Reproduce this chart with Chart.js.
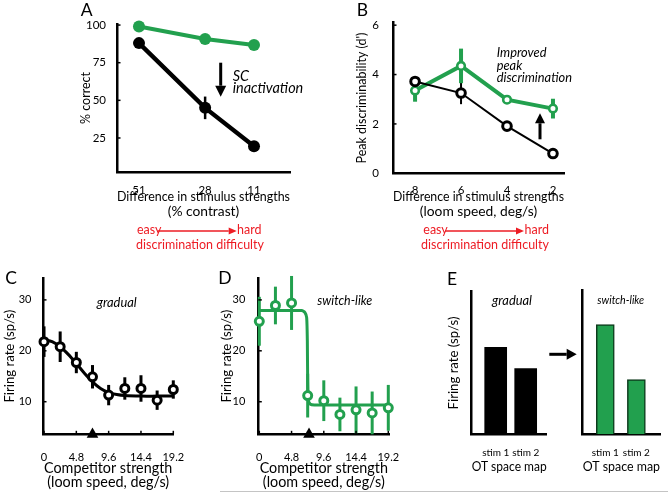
<!DOCTYPE html>
<html>
<head>
<meta charset="utf-8">
<script src="https://cdn.jsdelivr.net/npm/chart.js@4.4.1/dist/chart.umd.min.js"></script>
<style>
html,body{margin:0;padding:0;background:#fff}
#fig{position:relative;width:668px;height:494px;overflow:hidden;background:#fff}
#fig canvas{position:absolute;left:0;top:0}
</style>
</head>
<body>
<div id="fig">
<canvas id="c-a" width="668" height="494"></canvas>
<canvas id="c-b" width="668" height="494"></canvas>
<canvas id="c-c" width="668" height="494"></canvas>
<canvas id="c-d" width="668" height="494"></canvas>
<canvas id="c-e1" width="668" height="494"></canvas>
<canvas id="c-e2" width="668" height="494"></canvas>
</div>
<script>
// A: % correct vs difference in contrast
const aDiff=[51,28,11];
const aCtrl=[88,45,19.5];
const aCtrlErr=[2.5,7.5,3];
const aInact=[99,90.8,86.8];
const aTicksY=[25,50,75,100];
// B: peak d' vs difference in loom speed
const bDiff=[8,6,4,2];
const bCtrl=[3.72,3.25,1.91,0.8];
const bCtrlErr=[0.15,0.45,0.1,0.1];
const bInact=[3.35,4.35,2.98,2.62];
const bInactErr=[0.45,0.7,0.12,0.4];
const bTicksY=[0,2,4,6];
// C / D: firing rate vs competitor strength
const compStr=[0,2.4,4.8,7.2,9.6,12,14.4,16.8,19.2];
const compTicks=[0,4.8,9.6,14.4,19.2];
const rateTicks=[10,20,30];
const cRate=[21.8,20.8,17.7,14.9,11.3,12.6,12.6,10.3,12.4];
const cErr=[3,3,2.1,2.3,2,2.2,2.6,1.9,1.8];
const cFitX=[0,1.2,2.4,3.6,4.8,6,7.2,8.4,9.6,10.8,12,14.4,16.8,19.2,20.2];
const cFitY=[22.2,21.8,20.8,19.3,17.5,15.6,13.9,12.6,11.8,11.4,11.2,11.1,11.1,11.1,11.1];
const cThresh=[7.2];
const dRate=[25.8,28.9,29.4,11.2,10.2,7.5,8.4,7.8,8.8];
const dErr=[4.8,3.7,5.3,4.3,4,3.3,4.6,4.2,4.5];
const dFitX=[0,6.3,6.8,7.05,7.15,7.2,7.3,7.6,8.2,19.2];
const dFitY=[27.9,27.9,27.5,26.5,22,14,10.3,9.5,9.35,9.35];
const dThresh=[7.4];
// E: schematic bars
const eStims=['stim 1','stim 2'];
const eX=[1,2];
const eGradual=[61,46];
const eSwitch=[76,38];

const W=668,H=494;
const GREEN='#22a04e',RED='#ed1c24',FAM='Lato, "Open Sans", sans-serif';
Chart.defaults.font.family=FAM;
Chart.defaults.color='#000';
Chart.defaults.animation=false;
Chart.defaults.responsive=false;
Chart.defaults.plugins.legend.display=false;
Chart.defaults.plugins.tooltip.enabled=false;

// font size that makes a string a given width in px
const mctx=document.createElement('canvas').getContext('2d');
const fit=(txt,w,st)=>{ mctx.font=(st||'')+' 100px '+FAM; return +(100*w/mctx.measureText(txt).width).toFixed(2); };
const fs={
  tA:fit('Difference in stimulus strengths',192),
  tC:fit('(loom speed, deg/s)',122),
  tE:fit('OT space map',84),
  yA:fit('% correct',52),
  yB:fit("Peak discriminability (d')",131),
  yC:fit('Firing rate (sp/s)',93),
  kA:11.5, kC:11, kE:10,
  red:fit('discrimination difficulty',128),
  itA:fit('inactivation',70.6,'italic'),
  itB:fit('discrimination',75.3,'italic'),
  itC:fit('gradual',40,'italic'),
  itD:fit('switch-like',55,'italic'),
  itE:fit('switch-like',47,'italic')
};

const pad=(a,yw,xh)=>({left:a[0]-yw,top:a[1],right:W-a[2],bottom:H-a[3]-xh});
const pts=(xs,ys)=>xs.map((x,i)=>({x,y:ys[i]}));

function xAxis(o){
  const ticks={font:{size:o.size},padding:o.pad,color:'#000',maxRotation:0,autoSkip:false};
  if(o.cb) ticks.callback=o.cb;
  return {
    type:'linear',position:'bottom',min:o.min,max:o.max,reverse:!!o.reverse,offset:false,
    grid:{display:false},border:{color:'#000',width:2.5},ticks,
    title:{display:true,text:o.title,font:{size:o.tsize,lineHeight:o.lh||1.2},padding:0,color:'#000'},
    afterBuildTicks:s=>{ s.ticks=o.ticks.map(v=>({value:v})); },
    afterFit:s=>{ s.height=o.h; s.paddingLeft=0; s.paddingRight=0; }
  };
}
function yAxis(o){
  return {
    type:'linear',position:'left',min:o.min,max:o.max,
    grid:{display:false},border:{color:'#000',width:2.5},
    ticks:{display:!!o.ticks,font:{size:o.size||12},padding:o.pad||3,color:'#000'},
    title:{display:!!o.title,text:o.title||'',font:{size:o.tsize||13.5},padding:0,color:'#000'},
    afterBuildTicks:s=>{ s.ticks=(o.ticks||[]).map(v=>({value:v})); },
    afterFit:s=>{ s.width=o.w; s.paddingTop=0; s.paddingBottom=0; }
  };
}
// width of the y axis box so the rotated title centre lands at page x tx
const yw=(left,tx,size)=>left-tx+size*0.6;

// error bars, inward ticks and free annotations
const extras={
  id:'extras',
  beforeDatasetsDraw(ch){
    const {ctx,scales:{x,y}}=ch;
    ch.data.datasets.forEach(ds=>{
      if(!ds.err) return;
      ctx.save();
      ctx.strokeStyle=ds.borderColor; ctx.lineWidth=ds.errWidth||2;
      ds.data.forEach((p,i)=>{
        const px=x.getPixelForValue(p.x);
        const lo=Math.max(p.y-ds.err[i],y.min);
        ctx.beginPath();
        ctx.moveTo(px,y.getPixelForValue(lo));
        ctx.lineTo(px,y.getPixelForValue(p.y+ds.err[i]));
        ctx.stroke();
      });
      ctx.restore();
    });
  },
  afterDraw(ch,args,opts){
    const {ctx,chartArea:ca,scales}=ch;
    ctx.save();
    (opts.inTicks||[]).forEach(id=>{
      const s=scales[id];
      ctx.strokeStyle='#000'; ctx.lineWidth=1.5;
      s.ticks.forEach(t=>{
        const p=s.getPixelForValue(t.value);
        ctx.beginPath();
        if(s.isHorizontal()){ ctx.moveTo(p,ca.bottom); ctx.lineTo(p,ca.bottom-3.5); }
        else { ctx.moveTo(ca.left,p); ctx.lineTo(ca.left+3.5,p); }
        ctx.stroke();
      });
    });
    (opts.notes||[]).forEach(n=>{
      const col=n.color||'#000';
      if(n.text!==undefined){
        ctx.font=n.font||('13px '+FAM); ctx.fillStyle=col;
        ctx.textAlign=n.align||'left'; ctx.textBaseline='middle';
        ctx.fillText(n.text,n.x,n.y);
      } else if(n.arrow){
        const [x1,y1,x2,y2]=n.arrow,hl=n.head||10,hw=n.hw||5.5;
        const a=Math.atan2(y2-y1,x2-x1);
        const bx=x2-Math.cos(a)*hl,by=y2-Math.sin(a)*hl;
        ctx.strokeStyle=col; ctx.fillStyle=col; ctx.lineWidth=n.lw||3;
        ctx.beginPath(); ctx.moveTo(x1,y1); ctx.lineTo(bx,by); ctx.stroke();
        ctx.beginPath(); ctx.moveTo(x2,y2);
        ctx.lineTo(bx-Math.sin(a)*hw,by+Math.cos(a)*hw);
        ctx.lineTo(bx+Math.sin(a)*hw,by-Math.cos(a)*hw);
        ctx.closePath(); ctx.fill();
      } else if(n.line){
        const [x1,y1,x2,y2]=n.line;
        ctx.strokeStyle=col; ctx.lineWidth=n.lw||1;
        ctx.beginPath(); ctx.moveTo(x1,y1); ctx.lineTo(x2,y2); ctx.stroke();
      }
    });
    ctx.restore();
  }
};
Chart.register(extras);

const LET='17.5px '+FAM, RF=fs.red+'px '+FAM;
const it=sz=>'italic '+sz+'px '+FAM;
function difficulty(x0,xa,xb,xh,cx){
  return [
    {text:'easy',x:x0,y:230,font:RF,color:RED},
    {arrow:[xa,231,xb,231],lw:1.6,head:8,hw:3.5,color:RED},
    {text:'hard',x:xh,y:230,font:RF,color:RED},
    {text:'discrimination difficulty',x:cx,y:244.5,font:RF,color:RED,align:'center'}
  ];
}

// A
const aArea=[117,24,290,172],aYW=yw(117,86,fs.yA);
new Chart(document.getElementById('c-a'),{
  type:'line',
  data:{datasets:[
    {data:pts(aDiff,aCtrl),err:aCtrlErr,errWidth:2.5,borderColor:'#000',backgroundColor:'#000',borderWidth:4.3,pointRadius:6,pointBorderWidth:0,clip:false},
    {data:pts(aDiff,aInact),borderColor:GREEN,backgroundColor:GREEN,borderWidth:4,pointRadius:6,pointBorderWidth:0,clip:false}
  ]},
  options:{
    layout:{padding:pad(aArea,aYW,47.3)},
    scales:{
      x:xAxis({min:-1.52,max:58.65,reverse:true,ticks:aDiff,size:fs.kA,pad:3,h:47.3,lh:'15.2px',tsize:fs.tA,title:['Difference in stimulus strengths','(% contrast)']}),
      y:yAxis({min:2.4,max:100.7,ticks:aTicksY,size:fs.kA,pad:3,w:aYW,tsize:fs.yA,title:'% correct'})
    },
    plugins:{extras:{inTicks:['y'],notes:[
      {text:'A',x:86.7,y:10,font:LET,align:'center'},
      {arrow:[220.7,62.7,220.7,96.7],lw:3,head:11,hw:5.5},
      {text:'SC',x:232.7,y:76,font:it(fs.itA)},
      {text:'inactivation',x:232.7,y:88.3,font:it(fs.itA)},
      ...difficulty(137,157.5,236.7,237,200)
    ]}}
  }
});

// B
const bArea=[393,22.7,564,173.3],bYW=yw(393,361.7,fs.yB);
new Chart(document.getElementById('c-b'),{
  type:'line',
  data:{datasets:[
    {data:pts(bDiff,bCtrl),err:bCtrlErr,errWidth:2,borderColor:'#000',borderWidth:2,pointRadius:4.3,pointBorderWidth:3,pointBackgroundColor:'#fff',pointBorderColor:'#000',clip:false},
    {data:pts(bDiff,bInact),err:bInactErr,errWidth:4,borderColor:GREEN,borderWidth:4,pointRadius:3.8,pointBorderWidth:2.6,pointBackgroundColor:'#fff',pointBorderColor:GREEN,clip:false}
  ]},
  options:{
    layout:{padding:pad(bArea,bYW,46)},
    scales:{
      x:xAxis({min:1.52,max:8.96,reverse:true,ticks:bDiff,size:fs.kA,pad:2,h:46,lh:'15.2px',tsize:fs.tA,title:['Difference in stimulus strengths','(loom speed, deg/s)']}),
      y:yAxis({min:0,max:6.1,ticks:bTicksY,size:fs.kA,pad:6,w:bYW,tsize:fs.yB,title:"Peak discriminability (d')"})
    },
    plugins:{extras:{inTicks:['y'],notes:[
      {text:'B',x:362.5,y:10,font:LET,align:'center'},
      {text:'Improved',x:496.7,y:53.3,font:it(fs.itB)},
      {text:'peak',x:496.7,y:66.2,font:it(fs.itB)},
      {text:'discrimination',x:496.7,y:78.3,font:it(fs.itB)},
      {arrow:[540,139.3,540,113.3],lw:3,head:10,hw:5},
      ...difficulty(423.3,445,524,524.5,485)
    ]}}
  }
});

// C
const rMin=3.6,rMax=34.3;
const cArea=[43,278,173.3,434.3],cYW=yw(43,10,fs.yC);
new Chart(document.getElementById('c-c'),{
  type:'line',
  data:{datasets:[
    {data:pts(cThresh,cThresh.map(()=>rMin)),showLine:false,pointStyle:'triangle',pointRadius:6.7,pointBorderWidth:0,pointBackgroundColor:'#000',clip:false},
    {data:pts(compStr,cRate),err:cErr,errWidth:3,showLine:false,borderColor:'#000',pointRadius:4,pointBorderWidth:3,pointBackgroundColor:'#fff',pointBorderColor:'#000',clip:false},
    {data:pts(cFitX,cFitY),borderColor:'#000',borderWidth:3,pointRadius:0,tension:0.3,clip:false}
  ]},
  options:{
    layout:{padding:pad(cArea,cYW,55.3)},
    scales:{
      x:xAxis({min:-0.15,max:19.2,ticks:compTicks,size:fs.kC,pad:8.5,h:55.3,lh:'14.2px',tsize:fs.tC,title:['Competitor strength','(loom speed, deg/s)']}),
      y:yAxis({min:rMin,max:rMax,ticks:rateTicks,size:fs.kC,pad:3.5,w:cYW,tsize:fs.yC,title:'Firing rate (sp/s)'})
    },
    plugins:{extras:{inTicks:['x','y'],notes:[
      {text:'C',x:11,y:278.3,font:LET,align:'center'},
      {text:'gradual',x:116.7,y:302.7,font:it(fs.itC),align:'center'}
    ]}}
  }
});

// D
const dArea=[258.3,278,389.3,434.3],dYW=yw(258.3,226.7,fs.yC);
new Chart(document.getElementById('c-d'),{
  type:'line',
  data:{datasets:[
    {data:pts(dThresh,dThresh.map(()=>rMin)),showLine:false,pointStyle:'triangle',pointRadius:6.7,pointBorderWidth:0,pointBackgroundColor:'#000',clip:false},
    {data:pts(compStr,dRate),err:dErr,errWidth:3,showLine:false,borderColor:GREEN,pointRadius:4,pointBorderWidth:3,pointBackgroundColor:'#fff',pointBorderColor:GREEN,clip:false},
    {data:pts(dFitX,dFitY),borderColor:GREEN,borderWidth:3,pointRadius:0,tension:0.2,clip:false}
  ]},
  options:{
    layout:{padding:pad(dArea,dYW,55.3)},
    scales:{
      x:xAxis({min:-0.15,max:19.35,ticks:compTicks,size:fs.kC,pad:8.5,h:55.3,lh:'14.2px',tsize:fs.tC,title:['Competitor strength','(loom speed, deg/s)']}),
      y:yAxis({min:rMin,max:rMax,ticks:rateTicks,size:fs.kC,pad:5,w:dYW,tsize:fs.yC,title:'Firing rate (sp/s)'})
    },
    plugins:{extras:{inTicks:['x','y'],notes:[
      {text:'D',x:225,y:278,font:LET,align:'center'},
      {text:'switch-like',x:344.8,y:300.7,font:it(fs.itD),align:'center'},
      {line:[220,491.5,668,491.5],color:'#c4c4c4',lw:1}
    ]}}
  }
});

// E
const eTick=(v,i)=>eStims[i];
const e1Area=[471.7,291.7,546.7,434.3],eYW=yw(471.7,453.3,fs.yC);
new Chart(document.getElementById('c-e1'),{
  type:'bar',
  data:{datasets:[{data:pts(eX,eGradual),backgroundColor:'#000',barThickness:22}]},
  options:{
    layout:{padding:pad(e1Area,eYW,40.5)},
    scales:{
      x:xAxis({min:0.2,max:2.7,ticks:eX,cb:eTick,size:fs.kE,pad:4,h:40.5,tsize:fs.tE,title:'OT space map'}),
      y:yAxis({min:0,max:100,w:eYW,tsize:fs.yC,title:'Firing rate (sp/s)'})
    },
    plugins:{extras:{notes:[
      {text:'E',x:452,y:279,font:LET,align:'center'},
      {text:'gradual',x:512,y:300.7,font:it(fs.itC),align:'center'},
      {arrow:[549.3,354.3,576.7,354.3],lw:3,head:10,hw:5.5}
    ]}}
  }
});
const e2Area=[582.7,290,660,434.3];
new Chart(document.getElementById('c-e2'),{
  type:'bar',
  data:{datasets:[{data:pts(eX,eSwitch),backgroundColor:GREEN,borderColor:'#0d3a1c',borderWidth:1.5,barThickness:18}]},
  options:{
    layout:{padding:pad(e2Area,0,40.5)},
    scales:{
      x:xAxis({min:0.273,max:2.76,ticks:eX,cb:eTick,size:fs.kE,pad:4,h:40.5,tsize:fs.tE,title:'OT space map'}),
      y:yAxis({min:0,max:100,w:0})
    },
    plugins:{extras:{notes:[
      {text:'switch-like',x:620.7,y:300.7,font:it(fs.itE),align:'center'}
    ]}}
  }
});
</script>
</body>
</html>
